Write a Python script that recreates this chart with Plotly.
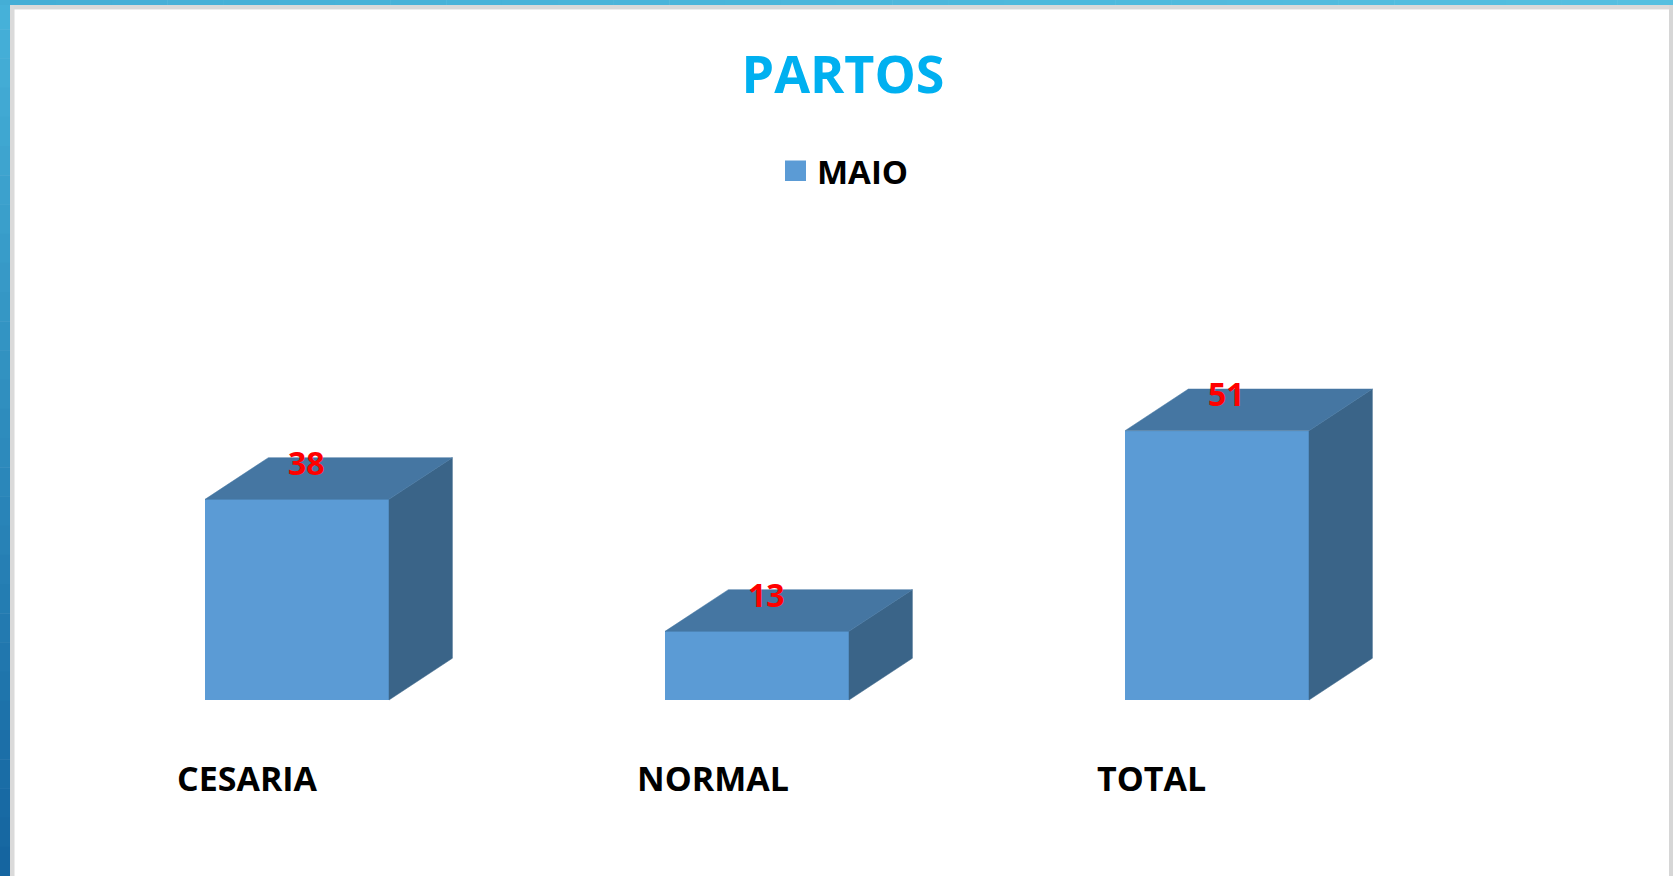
import plotly.graph_objects as go

# ---- data ----
categories = ["CESARIA", "NORMAL", "TOTAL"]
values = [38, 13, 51]
series_name = "MAIO"
title_text = "PARTOS"

# ---- style ----
W, H = 1673, 876
front_color = "#5B9BD5"
top_color = "#4576A2"
side_color = "#3A6488"
bar_w = 0.4          # bar width in category units
depth_x = 0.1378     # 3D depth offset (category units)
depth_y = 7.9        # 3D depth offset (value units)

x_pos = list(range(len(categories)))

fig = go.Figure()

# front faces
fig.add_trace(go.Bar(
    x=x_pos, y=values, width=bar_w, name=series_name,
    marker=dict(color=front_color, line=dict(width=0)),
    showlegend=False, hoverinfo="skip",
))

# top and side faces computed from values
for xi, v in zip(x_pos, values):
    l, r = xi - bar_w / 2, xi + bar_w / 2
    fig.add_trace(go.Scatter(
        x=[r, r + depth_x, r + depth_x, r, r],
        y=[0, depth_y, v + depth_y, v, 0],
        fill="toself", mode="lines", fillcolor=side_color,
        line=dict(color=side_color, width=0.5),
        showlegend=False, hoverinfo="skip",
    ))
    fig.add_trace(go.Scatter(
        x=[l, r, r + depth_x, l + depth_x, l],
        y=[v, v, v + depth_y, v + depth_y, v],
        fill="toself", mode="lines", fillcolor=top_color,
        line=dict(color=top_color, width=0.5),
        showlegend=False, hoverinfo="skip",
    ))

annotations = []
# data labels
for xi, v in zip(x_pos, values):
    annotations.append(dict(
        x=xi, y=v, xref="x", yref="y", text=str(v), showarrow=False,
        xshift=9, yshift=37, yanchor="middle", xanchor="center",
        font=dict(family="Open Sans", size=32, color="#FF0000", weight=700),
    ))
# category labels
for xi, c in zip(x_pos, categories):
    annotations.append(dict(
        x=xi - bar_w / 2, y=1 - 778 / H, xref="x", yref="paper", text=c,
        showarrow=False, xshift=-30, xanchor="left", yanchor="middle",
        font=dict(family="Open Sans", size=34, color="#000000", weight=700),
    ))
# legend text
annotations.append(dict(
    x=815 / W, y=1 - 171 / H, xref="paper", yref="paper", text=series_name,
    showarrow=False, xanchor="left", yanchor="middle",
    font=dict(family="Open Sans", size=33, color="#000000", weight=700),
))

shapes = []
# legend swatch
shapes.append(dict(type="rect", xref="paper", yref="paper",
                   x0=785 / W, x1=806 / W, y0=1 - 181 / H, y1=1 - 160.5 / H,
                   fillcolor=front_color, line=dict(width=0)))


def lerp(c1, c2, t):
    a = [int(c1[i:i + 2], 16) for i in (1, 3, 5)]
    b = [int(c2[i:i + 2], 16) for i in (1, 3, 5)]
    return "#%02X%02X%02X" % tuple(round(a[k] + (b[k] - a[k]) * t) for k in range(3))


# frame: left blue gradient band
n = 30
for i in range(n):
    y0 = i * H / n
    y1 = (i + 1) * H / n + 0.5
    shapes.append(dict(type="rect", xref="paper", yref="paper",
                       x0=0, x1=10 / W, y0=1 - y1 / H, y1=1 - y0 / H,
                       fillcolor=lerp("#46B1D9", "#1565A0", i / (n - 1)),
                       line=dict(width=0), layer="above"))
# top blue band
m = 30
for i in range(m):
    x0 = i * W / m
    x1 = (i + 1) * W / m + 0.5
    shapes.append(dict(type="rect", xref="paper", yref="paper",
                       x0=x0 / W, x1=x1 / W, y0=1 - 5 / H, y1=1,
                       fillcolor=lerp("#44AED6", "#54BFE0", i / (m - 1)),
                       line=dict(width=0), layer="above"))
# grey frame edges
shapes.append(dict(type="rect", xref="paper", yref="paper",
                   x0=10 / W, x1=1669 / W, y0=1 - 9 / H, y1=1 - 5 / H,
                   fillcolor="#D9D9D9", line=dict(width=0), layer="above"))
shapes.append(dict(type="rect", xref="paper", yref="paper",
                   x0=10 / W, x1=1669 / W, y0=1 - 10 / H, y1=1 - 9 / H,
                   fillcolor="#EEEEEE", line=dict(width=0), layer="above"))
shapes.append(dict(type="rect", xref="paper", yref="paper",
                   x0=10 / W, x1=14.5 / W, y0=0, y1=1 - 5 / H,
                   fillcolor="#DADADA", line=dict(width=0), layer="above"))
shapes.append(dict(type="rect", xref="paper", yref="paper",
                   x0=1669 / W, x1=1, y0=0, y1=1 - 5 / H,
                   fillcolor="#D6D6D6", line=dict(width=0), layer="above"))

# axis ranges chosen so the category step is 460 px and value unit is 5.28 px
px_per_cat = 460.0
x0_px = 297.0
px_per_val = 5.28
base_px = 700.0

fig.update_layout(
    width=W, height=H,
    margin=dict(l=0, r=0, t=0, b=0),
    paper_bgcolor="white", plot_bgcolor="white",
    title=dict(text=title_text, x=843 / W, y=1 - 75 / H, xanchor="center",
               yanchor="middle", xref="paper", yref="paper",
               font=dict(family="Open Sans", size=52, color="#00B0F0", weight=700)),
    xaxis=dict(range=[-x0_px / px_per_cat, (W - x0_px) / px_per_cat],
               visible=False, fixedrange=True, domain=[0, 1]),
    yaxis=dict(range=[-(H - base_px) / px_per_val, base_px / px_per_val],
               visible=False, fixedrange=True, domain=[0, 1]),
    showlegend=False,
    annotations=annotations,
    shapes=shapes,
    hovermode=False,
    bargap=0,
)

fig.write_html(
    "out.html",
    config={"displayModeBar": False},
    post_script="document.body.style.margin='0';document.body.style.overflow='hidden';",
)
